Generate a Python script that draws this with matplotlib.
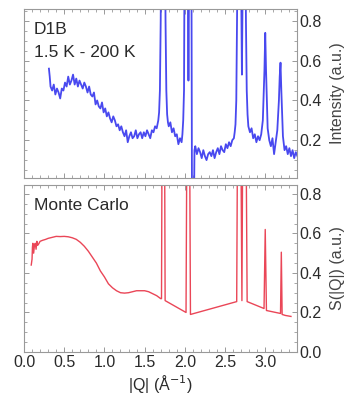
import numpy as np
import matplotlib
matplotlib.use("Agg")
import matplotlib.pyplot as plt
from matplotlib.ticker import MultipleLocator

plt.rcParams['font.family'] = ['Liberation Sans', 'DejaVu Sans']

# D1B measured pattern (1.5 K - 200 K difference)
q_d1b = [0.31, 0.32, 0.33, 0.35, 0.37, 0.39, 0.41, 0.43, 0.45, 0.47,
         0.49, 0.51, 0.53, 0.55, 0.57, 0.59, 0.61, 0.63, 0.65, 0.67,
         0.69, 0.71, 0.73, 0.75, 0.77, 0.79, 0.81, 0.83, 0.85, 0.87,
         0.89, 0.91, 0.93, 0.95, 0.97, 0.99, 1.01, 1.03, 1.05, 1.07,
         1.09, 1.11, 1.13, 1.15, 1.17, 1.19, 1.21, 1.23, 1.25, 1.27,
         1.29, 1.31, 1.33, 1.35, 1.37, 1.39, 1.41, 1.43, 1.45, 1.47,
         1.49, 1.51, 1.53, 1.55, 1.57, 1.59, 1.61, 1.63, 1.65, 1.67,
         1.68, 1.69, 1.70, 1.71, 1.75, 1.76, 1.77, 1.78, 1.79, 1.80,
         1.82, 1.84, 1.86, 1.88, 1.90, 1.92, 1.94, 1.96, 1.97, 1.98,
         1.99, 2.00, 2.03, 2.045, 2.06, 2.08, 2.09, 2.11, 2.12, 2.13,
         2.15, 2.17, 2.19, 2.21, 2.23, 2.25, 2.27, 2.29, 2.31, 2.33,
         2.35, 2.37, 2.39, 2.41, 2.43, 2.45, 2.47, 2.49, 2.51, 2.53,
         2.55, 2.57, 2.59, 2.61, 2.62, 2.63, 2.64, 2.65, 2.66, 2.69,
         2.71, 2.73, 2.75, 2.76, 2.77, 2.78, 2.79, 2.81, 2.83, 2.85,
         2.87, 2.89, 2.91, 2.93, 2.95, 2.97, 2.99, 3.00, 3.01, 3.03,
         3.05, 3.07, 3.09, 3.11, 3.13, 3.15, 3.17, 3.18, 3.19, 3.20,
         3.22, 3.24, 3.26, 3.28, 3.30, 3.32, 3.34, 3.36, 3.38, 3.40]
i_d1b = [0.56, 0.52, 0.47, 0.45, 0.48, 0.43, 0.46, 0.44, 0.41, 0.46,
         0.45, 0.49, 0.47, 0.52, 0.48, 0.50, 0.53, 0.48, 0.51, 0.47,
         0.50, 0.48, 0.46, 0.49, 0.47, 0.44, 0.47, 0.43, 0.42, 0.44,
         0.38, 0.40, 0.37, 0.36, 0.39, 0.34, 0.36, 0.32, 0.34, 0.31,
         0.29, 0.32, 0.30, 0.27, 0.28, 0.25, 0.27, 0.24, 0.22, 0.25,
         0.19, 0.22, 0.24, 0.21, 0.22, 0.25, 0.21, 0.23, 0.24, 0.21,
         0.24, 0.22, 0.25, 0.23, 0.21, 0.25, 0.24, 0.27, 0.26, 0.30,
         0.34, 0.45, 0.80, 1.50, 1.50, 0.80, 0.45, 0.33, 0.29, 0.27,
         0.29, 0.24, 0.26, 0.22, 0.23, 0.18, 0.21, 0.19, 0.23, 0.30,
         0.45, 1.50, 1.50, 0.50, 1.50, 1.50, -0.30, -0.30, 0.15, 0.17,
         0.13, 0.16, 0.14, 0.11, 0.15, 0.12, 0.10, 0.13, 0.14, 0.12,
         0.15, 0.11, 0.14, 0.16, 0.13, 0.17, 0.15, 0.14, 0.18, 0.16,
         0.19, 0.17, 0.20, 0.21, 0.24, 0.28, 0.40, 0.80, 1.50, 1.50,
         0.53, 1.50, 1.50, 0.80, 0.45, 0.33, 0.27, 0.24, 0.26, 0.21,
         0.23, 0.19, 0.22, 0.20, 0.23, 0.30, 0.55, 0.74, 0.55, 0.26,
         0.20, 0.17, 0.21, 0.13, 0.19, 0.25, 0.40, 0.52, 0.59, 0.45,
         0.22, 0.15, 0.17, 0.13, 0.16, 0.12, 0.15, 0.11, 0.14, 0.12]

# Monte Carlo S(|Q|)
q_mc = [0.09, 0.10, 0.105, 0.11, 0.12, 0.13, 0.14, 0.15, 0.16, 0.17,
        0.18, 0.20, 0.23, 0.27, 0.30, 0.35, 0.40, 0.45, 0.50, 0.55,
        0.60, 0.65, 0.70, 0.75, 0.80, 0.85, 0.90, 0.95, 1.00, 1.05,
        1.10, 1.15, 1.20, 1.25, 1.30, 1.35, 1.40, 1.45, 1.50, 1.55,
        1.60, 1.65, 1.70, 1.71, 1.72, 1.745, 1.755, 2.015, 2.03, 2.055,
        2.07, 2.645, 2.66, 2.69, 2.71, 2.725, 2.755, 2.775, 2.985, 3.00,
        3.015, 3.19, 3.20, 3.21, 3.25, 3.32]
s_mc = [0.44, 0.47, 0.53, 0.55, 0.50, 0.54, 0.55, 0.52, 0.56, 0.54,
        0.545, 0.56, 0.565, 0.57, 0.575, 0.58, 0.585, 0.584, 0.585, 0.583,
        0.578, 0.57, 0.555, 0.535, 0.51, 0.48, 0.45, 0.41, 0.38, 0.345,
        0.325, 0.31, 0.30, 0.298, 0.30, 0.305, 0.31, 0.31, 0.31, 0.305,
        0.295, 0.285, 0.27, 0.27, 1.50, 1.50, 0.26, 0.20, 1.50, 1.50,
        0.19, 0.255, 1.50, 1.50, 0.26, 1.50, 1.50, 0.255, 0.22, 0.62,
        0.21, 0.195, 0.505, 0.19, 0.185, 0.18]

x_ticks = [0.0, 0.5, 1.0, 1.5, 2.0, 2.5, 3.0]
y_ticks_top = [0.2, 0.4, 0.6, 0.8]
y_ticks_bot = [0.0, 0.2, 0.4, 0.6, 0.8]

fig = plt.figure(figsize=(3.53, 4.0), dpi=100)
ax1 = fig.add_axes([24/353, 1 - 178/400, 273/353, 169/400])
ax2 = fig.add_axes([24/353, 1 - 352/400, 273/353, 167/400])

frame = '#999999'
txt = '#2a2a2a'

def style(ax):
    for s in ax.spines.values():
        s.set_color(frame)
        s.set_linewidth(0.8)
    ax.set_xlim(0, 3.395)
    ax.set_xticks(x_ticks)
    ax.xaxis.set_minor_locator(MultipleLocator(0.1))
    ax.yaxis.set_minor_locator(MultipleLocator(0.05))
    ax.tick_params(which='both', direction='in', top=True, bottom=True,
                   left=True, right=True, labelleft=False, labelright=True,
                   color=frame, labelcolor=txt, labelsize=11.5, pad=2)
    ax.tick_params(which='major', length=3.5, width=0.7)
    ax.tick_params(which='minor', length=2, width=0.6)
    ax.yaxis.set_label_position('right')

ax1.plot(q_d1b, i_d1b, color='#3535ee', lw=1.3, alpha=0.9)
style(ax1)
ax1.set_ylim(0.01, 0.86)
ax1.set_yticks(y_ticks_top)
ax1.tick_params(labelbottom=False)
ax1.set_ylabel('Intensity (a.u.)', fontsize=11.5, color='#444444', labelpad=6)
ax1.text(0.035, 0.88, 'D1B', transform=ax1.transAxes, fontsize=12.5,
         color=txt, va='center')
ax1.text(0.035, 0.74, '1.5 K - 200 K', transform=ax1.transAxes,
         fontsize=12.5, color=txt, va='center')

ax2.plot(q_mc, s_mc, color='#ea4657', lw=1.0)
style(ax2)
ax2.set_ylim(0, 0.845)
ax2.set_yticks(y_ticks_bot)
ax2.set_xticklabels(['%.1f' % t for t in x_ticks])
ax2.set_ylabel('S(|Q|) (a.u.)', fontsize=11.5, color='#444444', labelpad=6)
ax2.set_xlabel('|Q| (Å$^{-1}$)', fontsize=11.5, color=txt, labelpad=2)
ax2.text(0.035, 0.88, 'Monte Carlo', transform=ax2.transAxes,
         fontsize=12.5, color=txt, va='center')

fig.savefig('out.png', dpi=100)
